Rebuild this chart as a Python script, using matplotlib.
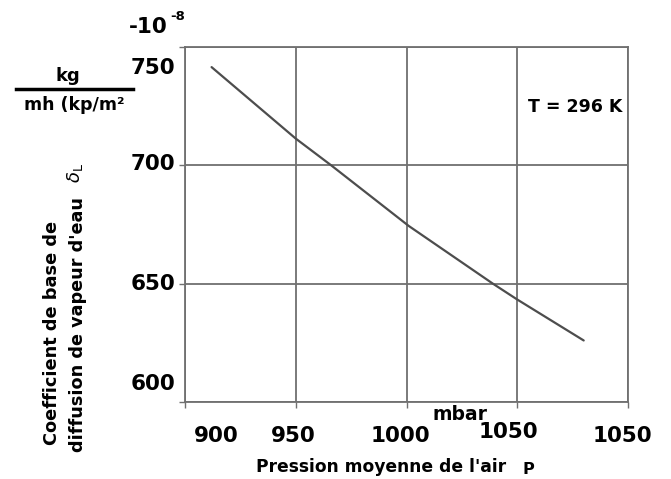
import matplotlib
matplotlib.use("Agg")
import matplotlib.pyplot as plt
from matplotlib.lines import Line2D

# ---- data ----
pressure = [912, 950, 966, 1001, 1039, 1050, 1080]
coef = [741.5, 711.3, 700.0, 674.4, 650.0, 643.3, 626.0]

x_ticks = [900, 950, 1000, 1050, 1100]
x_tick_labels = ["900", "950", "1000", "1050", "1050"]
y_ticks = [600, 650, 700, 750]
y_tick_labels = ["600", "650", "700", "750"]

# label offsets in pixels (dx, dy; dy positive = up) to mimic the scanned layout
x_label_offsets = [(31, 0), (-3, 0), (-6, 0), (-9, 4), (-6, 0)]
y_label_offsets = [(0, 18), (0, 0), (0, 1), (0, -21)]

W, H = 671, 479
fig = plt.figure(figsize=(W / 100, H / 100), dpi=100)
ax = fig.add_axes([185 / W, 1 - 402 / H, 443 / W, 355 / H])

grid_c = "#707070"
ax.plot(pressure, coef, color="#4d4d4d", lw=1.6, solid_capstyle="round")
ax.set_xlim(900, 1100)
ax.set_ylim(600, 750)
ax.set_xticks(x_ticks)
ax.set_yticks(y_ticks)
ax.set_xticklabels([])
ax.set_yticklabels([])
ax.grid(True, color=grid_c, lw=1.3)
ax.tick_params(length=4, color=grid_c, width=1)
for s in ax.spines.values():
    s.set_color(grid_c)
    s.set_linewidth(1.3)

bold = dict(family="DejaVu Sans", fontweight="bold", color="black")

for xv, lab, (dx, dy) in zip(x_ticks, x_tick_labels, x_label_offsets):
    ax.annotate(lab, xy=(xv, 0), xycoords=("data", "axes fraction"),
                xytext=(dx * 0.72, (-34 + dy) * 0.72), textcoords="offset points",
                ha="center", va="center", fontsize=15.5, **bold)

for yv, lab, (dx, dy) in zip(y_ticks, y_tick_labels, y_label_offsets):
    ax.annotate(lab, xy=(0, yv), xycoords=("axes fraction", "data"),
                xytext=((-10 + dx) * 0.72, dy * 0.72), textcoords="offset points",
                ha="right", va="center", fontsize=15.5, **bold)

def px(x, y):
    return x / W, 1 - y / H

# annotation inside plot
fig.text(*px(575, 107), "T = 296 K", ha="center", va="center", fontsize=12.5, **bold)

# x-axis texts
fig.text(*px(460, 414), "mbar", ha="center", va="center", fontsize=13.5, **bold)
fig.text(*px(381, 467), "Pression moyenne de l'air", ha="center", va="center", fontsize=12.3, **bold)
fig.text(*px(528, 470), "P", ha="center", va="center", fontsize=11.5, **bold)

# y-axis texts
fig.text(*px(148, 27), "-10", ha="center", va="center", fontsize=15.5, **bold)
fig.text(*px(178, 17), "-8", ha="center", va="center", fontsize=9.5, **bold)
fig.text(*px(68, 76), "kg", ha="center", va="center", fontsize=13, **bold)
fig.add_artist(Line2D([16 / W, 133 / W], [1 - 89 / H, 1 - 89 / H],
                      transform=fig.transFigure, color="black", lw=2.5))
fig.text(*px(74, 105), "mh (kp/m²", ha="center", va="center", fontsize=12.5, **bold)

fig.text(*px(52, 333), "Coefficient de base de", rotation=90,
         ha="center", va="center", fontsize=12.8, **bold)
fig.text(*px(78, 325), "diffusion de vapeur d'eau", rotation=90,
         ha="center", va="center", fontsize=12.7, **bold)
fig.text(*px(75, 173), r"$\delta_{\rm L}$", rotation=90,
         ha="center", va="center", fontsize=13, color="black")

fig.savefig("out.png", dpi=100, facecolor="white")
